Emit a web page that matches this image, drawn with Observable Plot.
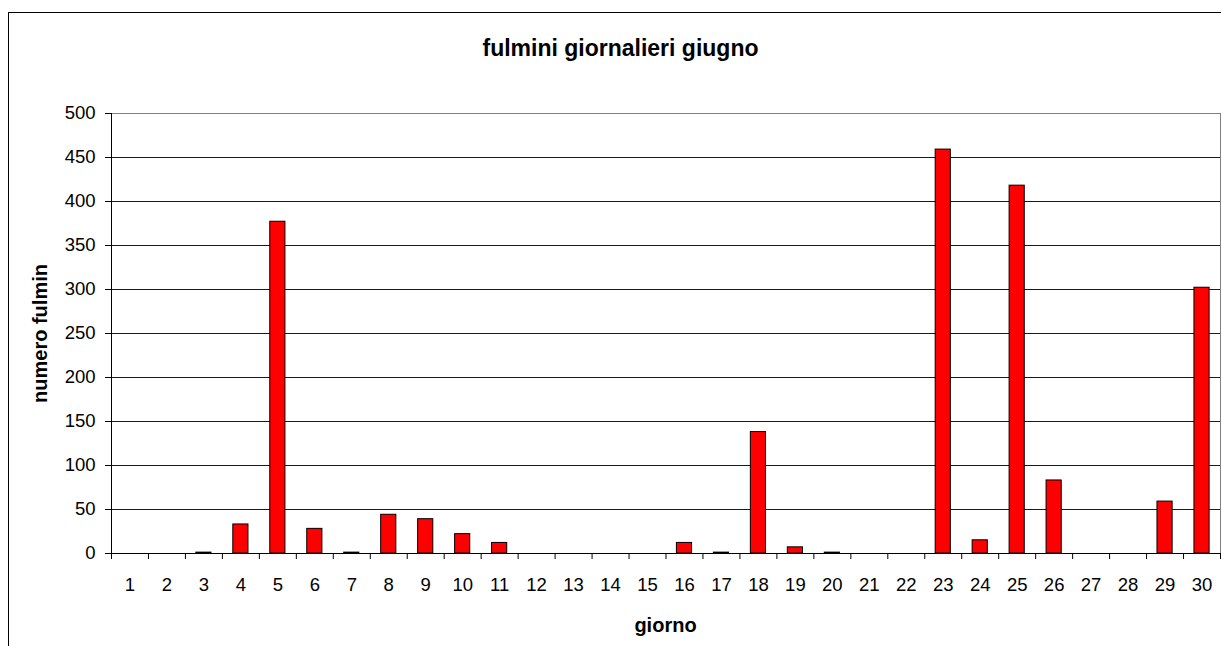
<!DOCTYPE html>
<html><head><meta charset="utf-8">
<script src="https://cdn.jsdelivr.net/npm/d3@7"></script>
<script src="https://cdn.jsdelivr.net/npm/@observablehq/plot@0.6"></script>
<style>
body{margin:0;background:#fff;}
#wrap{position:relative;width:1221px;height:646px;overflow:hidden;background:#fff;}
#frame{position:absolute;left:8px;top:12px;width:1400px;height:800px;border-left:1px solid #000;border-top:1px solid #000;pointer-events:none;}
#chart{position:absolute;left:0;top:0;}
</style></head><body>
<div id="wrap"><div id="frame"></div><div id="chart"></div></div>
<script>
const days = [1,2,3,4,5,6,7,8,9,10,11,12,13,14,15,16,17,18,19,20,21,22,23,24,25,26,27,28,29,30];
const values = [0,0,1,33,377,28,1,44,39,22,12,0,0,0,0,12,1,138,7,1,0,0,459,15,418,83,0,0,59,302];
const yTicks = [0,50,100,150,200,250,300,350,400,450,500];
const titleText = "fulmini giornalieri giugno";
const xLabel = "giorno";
const yLabel = "numero fulmin";

const data = days.map((d, i) => ({day: d, value: values[i]}));
const boundaries = days.map(d => d - 0.5).concat([days[days.length - 1] + 0.5]);
const half = 0.205;

const chart = Plot.plot({
  width: 1221,
  height: 646,
  marginLeft: 111,
  marginRight: 1,
  marginTop: 113,
  marginBottom: 93,
  style: {fontFamily: "'Liberation Sans', Arial, sans-serif", fontSize: "18.5px", color: "#000", background: "transparent"},
  x: {domain: [0.5, 30.5]},
  y: {domain: [0, 500]},
  marks: [
    Plot.ruleY(yTicks.filter(t => t > 0 && t < 500), {stroke: "#1a1a1a", strokeWidth: 1}),
    Plot.ruleY([500], {stroke: "#808080"}),
    Plot.ruleX([30.5], {stroke: "#808080"}),
    Plot.rectY(data, {x1: d => d.day - half, x2: d => d.day + half, y: "value", fill: "#ff0000", stroke: "#000", strokeWidth: 1}),
    Plot.ruleY([0], {stroke: "#000"}),
    Plot.ruleX([0.5], {stroke: "#000"}),
    Plot.axisY({ticks: yTicks, tickSize: 6, tickPadding: 10, label: null, anchor: "left", stroke: "#000"}),
    Plot.axisX({ticks: boundaries, tickSize: 6, tickFormat: () => "", label: null, stroke: "#000"}),
    Plot.axisX({ticks: days, tickSize: 0, tickPadding: 24, label: null}),
    Plot.text([titleText], {frameAnchor: "top", textAnchor: "middle", lineAnchor: "middle", dx: -45.5, dy: -64.4, fontSize: 23, fontWeight: "bold"}),
    Plot.text([xLabel], {frameAnchor: "bottom", textAnchor: "middle", lineAnchor: "middle", dx: -0.5, dy: 72, fontSize: 20, fontWeight: "bold"}),
    Plot.text([yLabel], {frameAnchor: "left", textAnchor: "middle", lineAnchor: "middle", rotate: -90, dx: -71.3, fontSize: 20, fontWeight: "bold"})
  ]
});
document.getElementById("chart").appendChild(chart);
</script>
</body></html>
